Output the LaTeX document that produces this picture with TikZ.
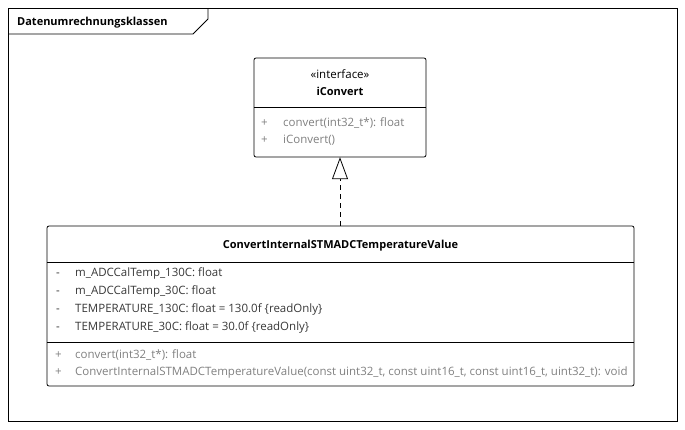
\documentclass[tikz,border=0pt]{standalone}
\usepackage{fontspec}
\setmainfont{Open Sans}
\usetikzlibrary{arrows.meta}
\definecolor{optext}{HTML}{808080}
\definecolor{attrtext}{HTML}{383838}
\begin{document}
\begin{tikzpicture}[x=1pt,y=-1pt,
  txt/.style={inner sep=0pt,font=\fontsize{11.5}{13}\selectfont},
  boldtxt/.style={txt,font=\fontsize{11}{13}\selectfont\bfseries},
  op/.style={txt,anchor=base west,text=optext},
  attr/.style={txt,anchor=base west,text=attrtext},
  classbox/.style={draw,line width=0.8pt,rounded corners=2pt},
  divider/.style={line width=0.8pt},
  frameline/.style={line width=0.8pt}]
\useasboundingbox (0,0) rectangle (685,429);
% package frame
\draw[frameline] (8,8) rectangle (677,421);
\draw[frameline] (8,34) -- (193,34) -- (208,19) -- (208,8);
\node[boldtxt,anchor=base west] (pkg) at (17,25) {Datenumrechnungsklassen};
% iConvert
\draw[classbox] (254,58) rectangle (426,157);
\node[draw=none,minimum width=172pt,minimum height=99pt,inner sep=0pt] (ic) at (340,107.5) {};
\draw[divider] (254,107) -- (426,107);
\node[txt,anchor=base] (st) at (340,78) {«interface»};
\node[boldtxt,anchor=base] (icn) at (340,95) {iConvert};
\node[op] at (261,126) {+};
\node[op] at (283,126) {convert(int32\_t*): float};
\node[op] at (261,143) {+};
\node[op] at (283,143) {iConvert()};
% Convert class
\draw[classbox] (47,226) rectangle (634,386);
\node[draw=none,minimum width=587pt,minimum height=160pt,inner sep=0pt] (cv) at (340.5,306) {};
\draw[divider] (47,262) -- (634,262);
\draw[divider] (47,342) -- (634,342);
\node[boldtxt,anchor=base] (cvn) at (340.5,248) {ConvertInternalSTMADCTemperatureValue};
\foreach \y/\t in {276/{m\_ADCCalTemp\_130C: float},
                   294/{m\_ADCCalTemp\_30C: float},
                   312/{TEMPERATURE\_130C: float = 130.0f \{readOnly\}},
                   330/{TEMPERATURE\_30C: float = 30.0f \{readOnly\}}}{
  \node[attr] at (56,\y) {-};
  \node[attr] at (75,\y) {\t};
}
\node[op] at (55,358) {+};
\node[op] at (75,358) {convert(int32\_t*): float};
\node[op] at (55,375) {+};
\node[op] at (75,375) {ConvertInternalSTMADCTemperatureValue(const uint32\_t, const uint16\_t, const uint16\_t, uint32\_t): void};
% realization
\draw[line width=0.8pt,dash pattern=on 5pt off 4pt,-{Triangle[open,width=16pt,length=22pt]}] (cv.north -| ic.south) -- (ic.south);
\end{tikzpicture}
\end{document}
